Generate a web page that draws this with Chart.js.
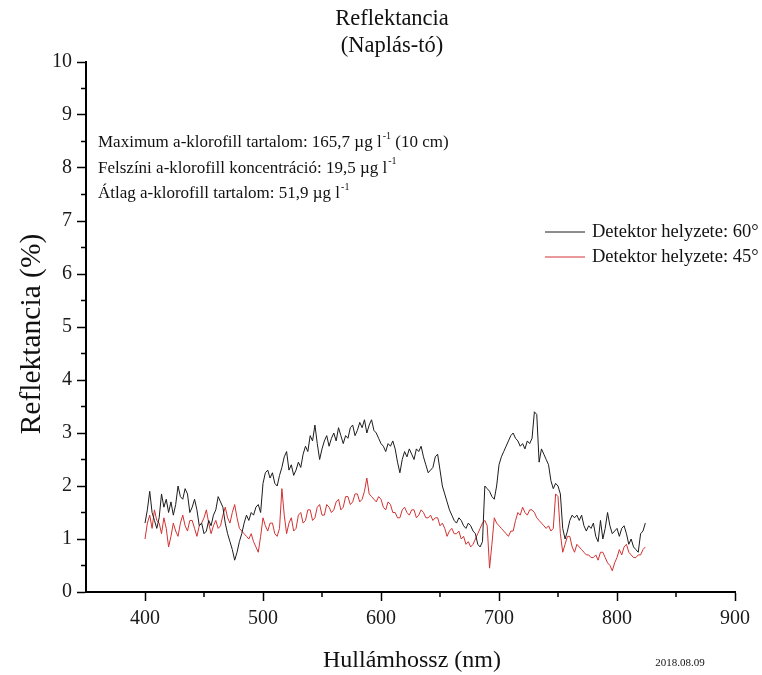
<!DOCTYPE html>
<html>
<head>
<meta charset="utf-8">
<script src="https://cdn.jsdelivr.net/npm/chart.js@4.4.1/dist/chart.umd.min.js"></script>
<style>
  body { margin: 0; background: #fff; }
  canvas { display: block; }
</style>
</head>
<body>
<canvas id="reflektancia-chart" width="762" height="675"></canvas>
<script>
// hullámhossz (nm), 2 nm lépésköz
const wavelengths = [
  400, 402, 404, 406, 408, 410, 412, 414, 416, 418,
  420, 422, 424, 426, 428, 430, 432, 434, 436, 438,
  440, 442, 444, 446, 448, 450, 452, 454, 456, 458,
  460, 462, 464, 466, 468, 470, 472, 474, 476, 478,
  480, 482, 484, 486, 488, 490, 492, 494, 496, 498,
  500, 502, 504, 506, 508, 510, 512, 514, 516, 518,
  520, 522, 524, 526, 528, 530, 532, 534, 536, 538,
  540, 542, 544, 546, 548, 550, 552, 554, 556, 558,
  560, 562, 564, 566, 568, 570, 572, 574, 576, 578,
  580, 582, 584, 586, 588, 590, 592, 594, 596, 598,
  600, 602, 604, 606, 608, 610, 612, 614, 616, 618,
  620, 622, 624, 626, 628, 630, 632, 634, 636, 638,
  640, 642, 644, 646, 648, 650, 652, 654, 656, 658,
  660, 662, 664, 666, 668, 670, 672, 674, 676, 678,
  680, 682, 684, 686, 688, 690, 692, 694, 696, 698,
  700, 702, 704, 706, 708, 710, 712, 714, 716, 718,
  720, 722, 724, 726, 728, 730, 732, 734, 736, 738,
  740, 742, 744, 746, 748, 750, 752, 754, 756, 758,
  760, 762, 764, 766, 768, 770, 772, 774, 776, 778,
  780, 782, 784, 786, 788, 790, 792, 794, 796, 798,
  800, 802, 804, 806, 808, 810, 812, 814, 816, 818,
  820, 822, 824
];

// Detektor helyzete: 60°
const refl60 = [
  1.30, 1.55, 1.90, 1.50, 1.35, 1.20, 1.40, 1.85, 1.60, 1.75,
  1.50, 1.70, 1.45, 1.65, 2.00, 1.80, 1.75, 1.95, 1.85, 1.50,
  1.60, 1.75, 1.55, 1.25, 1.30, 1.10, 1.15, 1.35, 1.25, 1.45,
  1.55, 1.80, 1.70, 1.60, 1.30, 1.10, 0.95, 0.80, 0.60, 0.75,
  0.95, 1.10, 1.30, 1.45, 1.35, 1.50, 1.45, 1.60, 1.65, 1.50,
  2.05, 2.25, 2.30, 2.15, 2.25, 2.05, 2.00, 2.20, 2.35, 2.55,
  2.65, 2.30, 2.40, 2.20, 2.30, 2.45, 2.35, 2.60, 2.75, 2.65,
  2.95, 2.85, 3.15, 2.80, 2.50, 2.70, 2.85, 2.95, 2.75, 2.90,
  3.00, 2.85, 3.10, 2.95, 2.80, 2.95, 2.90, 3.10, 3.15, 2.95,
  3.05, 3.20, 3.10, 3.25, 3.00, 3.15, 3.25, 3.05, 3.00, 2.90,
  2.80, 2.75, 2.65, 2.80, 2.75, 2.85, 2.70, 2.45, 2.25, 2.50,
  2.65, 2.55, 2.70, 2.60, 2.50, 2.70, 2.65, 2.75, 2.55, 2.40,
  2.25, 2.30, 2.35, 2.55, 2.60, 2.30, 2.00, 1.85, 1.70, 1.55,
  1.45, 1.35, 1.30, 1.40, 1.35, 1.25, 1.20, 1.30, 1.25, 1.15,
  1.10, 0.90, 0.85, 0.95, 2.00, 1.95, 1.90, 1.80, 1.75, 2.00,
  2.40, 2.55, 2.65, 2.75, 2.85, 2.95, 3.00, 2.90, 2.85, 2.75,
  2.80, 2.70, 2.85, 2.80, 2.90, 3.40, 3.35, 2.45, 2.70, 2.60,
  2.50, 2.40, 2.10, 1.95, 2.05, 2.00, 1.85, 1.20, 1.00, 1.15,
  1.35, 1.45, 1.40, 1.45, 1.35, 1.45, 1.25, 1.15, 1.25, 1.20,
  1.30, 1.05, 0.95, 1.35, 1.00, 1.20, 1.50, 1.25, 1.10, 1.15,
  1.20, 1.05, 1.20, 1.25, 1.10, 0.90, 1.00, 0.85, 0.80, 0.75,
  1.10, 1.15, 1.30
];

// Detektor helyzete: 45°
const refl45 = [
  1.00, 1.30, 1.45, 1.20, 1.55, 1.35, 1.30, 1.10, 1.40, 1.20,
  0.85, 1.05, 1.30, 1.15, 1.05, 1.30, 1.45, 1.25, 1.15, 1.35,
  1.35, 1.20, 1.05, 1.25, 1.30, 1.40, 1.55, 1.30, 1.10, 1.25,
  1.35, 1.20, 1.25, 1.45, 1.60, 1.40, 1.30, 1.50, 1.65, 1.40,
  1.20, 1.15, 1.10, 1.05, 1.00, 1.10, 0.95, 0.85, 0.75, 1.05,
  1.40, 1.25, 1.15, 1.30, 1.30, 1.10, 1.05, 1.20, 1.95, 1.45,
  1.10, 1.30, 1.40, 1.15, 1.20, 1.45, 1.50, 1.30, 1.35, 1.55,
  1.55, 1.35, 1.40, 1.60, 1.65, 1.45, 1.45, 1.65, 1.60, 1.50,
  1.55, 1.70, 1.75, 1.55, 1.60, 1.80, 1.80, 1.65, 1.70, 1.85,
  1.85, 1.70, 1.75, 1.90, 2.15, 1.85, 1.80, 1.75, 1.70, 1.80,
  1.75, 1.60, 1.55, 1.70, 1.65, 1.50, 1.50, 1.40, 1.40, 1.55,
  1.60, 1.50, 1.45, 1.55, 1.55, 1.40, 1.45, 1.55, 1.50, 1.40,
  1.40, 1.45, 1.35, 1.40, 1.40, 1.25, 1.30, 1.20, 1.05, 1.15,
  1.20, 1.10, 1.10, 1.15, 1.00, 1.05, 0.90, 0.95, 0.85, 0.90,
  1.00, 1.10, 1.20, 1.30, 1.35, 1.25, 0.45, 0.90, 1.40, 1.30,
  1.25, 1.20, 1.15, 1.10, 1.05, 1.15, 1.15, 1.35, 1.50, 1.45,
  1.60, 1.50, 1.45, 1.55, 1.55, 1.50, 1.40, 1.35, 1.30, 1.25,
  1.20, 1.25, 1.15, 1.20, 1.85, 1.80, 1.10, 0.75, 0.90, 1.05,
  1.05, 0.85, 0.75, 0.90, 0.85, 0.80, 0.75, 0.70, 0.70, 0.65,
  0.65, 0.70, 0.60, 0.75, 0.75, 0.65, 0.55, 0.50, 0.40, 0.55,
  0.65, 0.80, 0.70, 0.85, 0.90, 0.75, 0.70, 0.65, 0.65, 0.70,
  0.70, 0.80, 0.85
];

const seriesLabels = ['Detektor helyzete: 60°', 'Detektor helyzete: 45°'];
const seriesColors = ['#1c1c1c', '#d23232'];

const titleLines = ['Reflektancia', '(Naplás-tó)'];
const xTitle = 'Hullámhossz (nm)';
const yTitle = 'Reflektancia (%)';
const dateText = '2018.08.09';
// [szöveg, felső index, utána jövő szöveg]
const notes = [
  ['Maximum a-klorofill tartalom: 165,7 \u00b5g l', '-1', ' (10 cm)'],
  ['Felszíni a-klorofill koncentráció: 19,5 \u00b5g l', '-1', ''],
  ['Átlag a-klorofill tartalom: 51,9 \u00b5g l', '-1', '']
];

const SERIF = '"Liberation Serif", "Times New Roman", serif';

const toPoints = vals => wavelengths.map((w, i) => ({ x: w, y: vals[i] }));

// extra text, legend and minor ticks
const decorPlugin = {
  id: 'decor',
  afterDraw(chart) {
    const ctx = chart.ctx;
    const xs = chart.scales.x;
    const ys = chart.scales.y;
    ctx.save();
    ctx.fillStyle = '#111';

    // minor ticks
    ctx.strokeStyle = '#000';
    ctx.lineWidth = 1.5;
    ctx.beginPath();
    for (let v = 450; v < 900; v += 100) {
      const px = xs.getPixelForValue(v);
      ctx.moveTo(px, xs.top);
      ctx.lineTo(px, xs.top + 5);
    }
    for (let v = 0.5; v < 10; v += 1) {
      const py = ys.getPixelForValue(v);
      ctx.moveTo(ys.right, py);
      ctx.lineTo(ys.right - 5, py);
    }
    ctx.stroke();

    // title
    ctx.textAlign = 'center';
    ctx.textBaseline = 'middle';
    ctx.font = '22.5px ' + SERIF;
    ctx.fillText(titleLines[0], 392, 19);
    ctx.fillText(titleLines[1], 392, 46);

    // axis titles
    ctx.font = '24px ' + SERIF;
    ctx.fillText(xTitle, 412, 661);
    ctx.save();
    ctx.translate(32, 334);
    ctx.rotate(-Math.PI / 2);
    ctx.font = '29.5px ' + SERIF;
    ctx.fillText(yTitle, 0, 0);
    ctx.restore();

    ctx.font = '11px ' + SERIF;
    ctx.fillText(dateText, 680, 663);

    // notes
    ctx.textAlign = 'left';
    notes.forEach((n, i) => {
      const y = 143 + i * 25.5;
      let x = 98;
      ctx.font = '17px ' + SERIF;
      ctx.fillText(n[0], x, y);
      x += ctx.measureText(n[0]).width + 1;
      ctx.font = '10px ' + SERIF;
      ctx.fillText(n[1], x, y - 7);
      x += ctx.measureText(n[1]).width;
      ctx.font = '17px ' + SERIF;
      ctx.fillText(n[2], x, y);
    });

    // legend
    chart.data.datasets.forEach((ds, i) => {
      const y = 232 + i * 25;
      ctx.strokeStyle = ds.borderColor;
      ctx.lineWidth = 1;
      ctx.beginPath();
      ctx.moveTo(545, y);
      ctx.lineTo(585, y);
      ctx.stroke();
      ctx.fillStyle = '#111';
      ctx.font = '18.5px ' + SERIF;
      ctx.fillText(ds.label, 592, y);
    });
    ctx.restore();
  }
};

const ctx = document.getElementById('reflektancia-chart').getContext('2d');
new Chart(ctx, {
  type: 'line',
  data: {
    datasets: [
      { label: seriesLabels[0], data: toPoints(refl60), borderColor: seriesColors[0], borderWidth: 1, pointRadius: 0, tension: 0 },
      { label: seriesLabels[1], data: toPoints(refl45), borderColor: seriesColors[1], borderWidth: 1, pointRadius: 0, tension: 0 }
    ]
  },
  options: {
    responsive: false,
    animation: false,
    layout: { padding: { top: 62, right: 27, left: 0, bottom: 0 } },
    plugins: {
      legend: { display: false },
      title: { display: false },
      tooltip: { enabled: false }
    },
    scales: {
      x: {
        type: 'linear',
        min: 350,
        max: 900,
        afterFit: s => { s.height = 83; },
        border: { color: '#000', width: 2 },
        grid: {
          drawOnChartArea: false,
          tickLength: 9,
          tickWidth: 1.5,
          tickColor: c => (c.tick && c.tick.value % 100 === 0 && c.tick.value !== 350) ? '#000' : 'rgba(0,0,0,0)'
        },
        ticks: {
          stepSize: 50,
          autoSkip: false,
          maxRotation: 0,
          padding: 6,
          color: '#1a1a1a',
          font: { family: SERIF, size: 20 },
          callback: v => (v % 100 === 0 ? v : '')
        }
      },
      y: {
        min: 0,
        max: 10,
        afterFit: s => { s.width = 86; },
        border: { color: '#000', width: 2 },
        grid: {
          drawOnChartArea: false,
          tickLength: 9,
          tickWidth: 1.5,
          tickColor: c => (c.tick && Number.isInteger(c.tick.value)) ? '#000' : 'rgba(0,0,0,0)'
        },
        ticks: {
          stepSize: 0.5,
          autoSkip: false,
          padding: 5,
          color: '#1a1a1a',
          font: { family: SERIF, size: 20 },
          callback: v => (Number.isInteger(v) ? v : '')
        }
      }
    }
  },
  plugins: [decorPlugin]
});
</script>
</body>
</html>
